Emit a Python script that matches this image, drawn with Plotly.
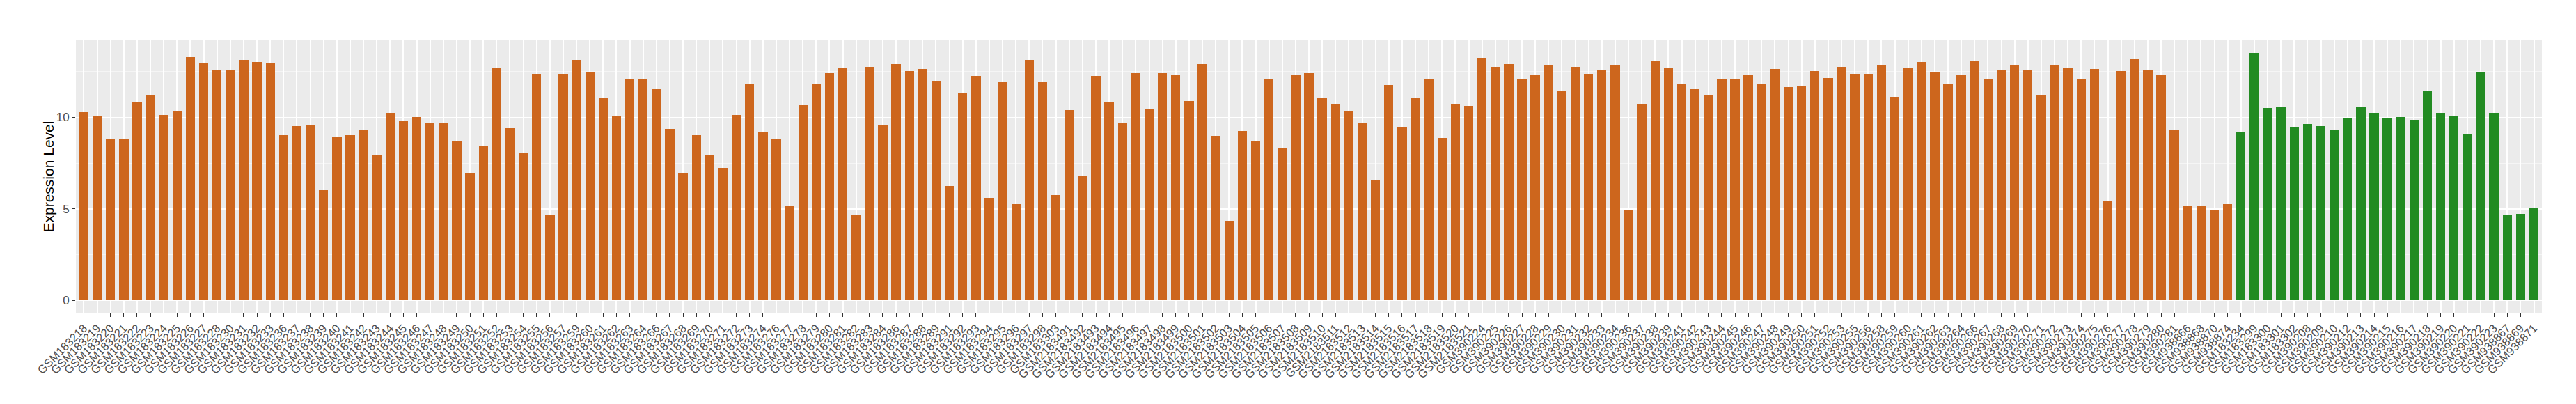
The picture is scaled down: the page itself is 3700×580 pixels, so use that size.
import plotly.graph_objects as go

tumor_labels = [
    "GSM183218","GSM183219","GSM183220","GSM183221","GSM183222","GSM183223","GSM183224","GSM183225",
    "GSM183226","GSM183227","GSM183228","GSM183230","GSM183231","GSM183232","GSM183233","GSM183236",
    "GSM183237","GSM183238","GSM183239","GSM183240","GSM183241","GSM183242","GSM183243","GSM183244",
    "GSM183245","GSM183246","GSM183247","GSM183248","GSM183249","GSM183250","GSM183251","GSM183252",
    "GSM183253","GSM183254","GSM183255","GSM183256","GSM183257","GSM183259","GSM183260","GSM183261",
    "GSM183262","GSM183263","GSM183264","GSM183266","GSM183267","GSM183268","GSM183269","GSM183270",
    "GSM183271","GSM183272","GSM183273","GSM183274","GSM183276","GSM183277","GSM183278","GSM183279",
    "GSM183280","GSM183281","GSM183282","GSM183283","GSM183284","GSM183286","GSM183287","GSM183288",
    "GSM183289","GSM183291","GSM183292","GSM183293","GSM183294","GSM183295","GSM183296","GSM183297",
    "GSM183298","GSM183303","GSM2183491","GSM2183492","GSM2183493","GSM2183494","GSM2183495","GSM2183496",
    "GSM2183497","GSM2183498","GSM2183499","GSM2183500","GSM2183501","GSM2183502","GSM2183503","GSM2183504",
    "GSM2183505","GSM2183506","GSM2183507","GSM2183508","GSM2183509","GSM2183510","GSM2183511","GSM2183512",
    "GSM2183513","GSM2183514","GSM2183515","GSM2183516","GSM2183517","GSM2183518","GSM2183519","GSM2183520",
    "GSM2183521","GSM390224","GSM390225","GSM390226","GSM390227","GSM390228","GSM390229","GSM390230",
    "GSM390231","GSM390232","GSM390233","GSM390234","GSM390236","GSM390237","GSM390238","GSM390239",
    "GSM390241","GSM390242","GSM390243","GSM390244","GSM390245","GSM390246","GSM390247","GSM390248",
    "GSM390249","GSM390250","GSM390251","GSM390252","GSM390253","GSM390255","GSM390256","GSM390258",
    "GSM390259","GSM390260","GSM390261","GSM390262","GSM390263","GSM390264","GSM390266","GSM390267",
    "GSM390268","GSM390269","GSM390270","GSM390271","GSM390272","GSM390273","GSM390274","GSM390275",
    "GSM390276","GSM390277","GSM390278","GSM390279","GSM390280","GSM390281","GSM938866","GSM938868",
    "GSM938870","GSM938874",
]
tumor_values = [
    10.28, 10.05, 8.84, 8.80, 10.82, 11.20, 10.13, 10.36,
    13.29, 12.99, 12.61, 12.61, 13.14, 13.02, 12.99, 9.02,
    9.52, 9.60, 6.02, 8.92, 9.02, 9.29, 7.95, 10.24,
    9.79, 10.01, 9.68, 9.71, 8.72, 6.97, 8.42, 12.73,
    9.41, 8.03, 12.38, 4.68, 12.38, 13.14, 12.46, 11.08,
    10.05, 12.07, 12.07, 11.54, 9.37, 6.93, 9.02, 7.91,
    7.23, 10.13, 11.80, 9.18, 8.80, 5.13, 10.67, 11.80,
    12.42, 12.69, 4.64, 12.77, 9.60, 12.91, 12.53, 12.65,
    12.01, 6.24, 11.35, 12.26, 5.60, 11.93, 5.25, 13.14,
    11.93, 5.75, 10.40, 6.82, 12.26, 10.82, 9.68, 12.42,
    10.44, 12.42, 12.34, 10.90, 12.91, 8.98, 4.33, 9.25,
    8.68, 12.07, 8.34, 12.34, 12.42, 11.08, 10.71, 10.36,
    9.68, 6.55, 11.76, 9.48, 11.04, 12.07, 8.88, 10.74,
    10.63, 13.26, 12.77, 12.91, 12.07, 12.34, 12.83, 11.47,
    12.77, 12.38, 12.61, 12.83, 4.95, 10.71, 13.06, 12.69,
    11.80, 11.54, 11.24, 12.07, 12.11, 12.34, 11.84, 12.65,
    11.66, 11.74, 12.53, 12.15, 12.77, 12.38, 12.38, 12.87,
    11.12, 12.69, 13.02, 12.50, 11.80, 12.30, 13.06, 12.11,
    12.57, 12.83, 12.57, 11.20, 12.87, 12.69, 12.07, 12.65,
    5.40, 12.53, 13.18, 12.57, 12.30, 9.29, 5.13, 5.13,
    4.91, 5.25,
]

normal_labels = [
    "GSM183234","GSM183299","GSM183300","GSM183301","GSM183302","GSM390208","GSM390209","GSM390210",
    "GSM390212","GSM390213","GSM390214","GSM390215","GSM390216","GSM390217","GSM390218","GSM390219",
    "GSM390220","GSM390221","GSM390222","GSM390223","GSM938867","GSM938869","GSM938871",
]
normal_values = [
    9.18, 13.53, 10.51, 10.59, 9.48, 9.64, 9.52, 9.33,
    9.95, 10.59, 10.24, 9.97, 10.01, 9.87, 11.43, 10.24,
    10.09, 9.06, 12.50, 10.24, 4.64, 4.72, 5.07,
]

y_ticks = [0, 5, 10]

all_labels = tumor_labels + normal_labels
n = len(all_labels)
ymax = max(tumor_values + normal_values)
pad = 0.05 * ymax

FONT = "Liberation Sans, Arial, Helvetica, sans-serif"

fig = go.Figure()
fig.add_trace(go.Bar(x=tumor_labels, y=tumor_values, width=0.7,
                     marker=dict(color="#CD661D", line=dict(width=0)), showlegend=False))
fig.add_trace(go.Bar(x=normal_labels, y=normal_values, width=0.7,
                     marker=dict(color="#228B22", line=dict(width=0)), showlegend=False))

fig.update_layout(
    width=3700, height=580,
    margin=dict(l=101, r=57, t=50, b=139, autoexpand=False),
    paper_bgcolor="white", plot_bgcolor="#EBEBEB",
    barmode="overlay", bargap=0,
    font=dict(family=FONT, color="#4D4D4D"),
    annotations=[dict(text="Expression Level", xref="paper", yref="paper",
                      x=-40 / 3542, y=0.5, xanchor="center", yanchor="middle",
                      textangle=-90, showarrow=False,
                      font=dict(family=FONT, size=21, color="black"))],
)
fig.update_xaxes(
    type="category", categoryorder="array", categoryarray=all_labels,
    range=[-0.6, n - 1 + 0.6],
    tickmode="array", tickvals=all_labels, ticktext=all_labels,
    tickangle=-45, tickfont=dict(family=FONT, size=16.5, color="#4D4D4D"),
    ticks="outside", ticklen=5, tickwidth=1.2, tickcolor="#333333",
    showgrid=True, gridcolor="white", gridwidth=1.5,
    zeroline=False, showline=False, automargin=False,
)
fig.update_yaxes(
    range=[-pad, ymax + pad],
    tickmode="array", tickvals=y_ticks,
    tickfont=dict(family=FONT, size=17, color="#4D4D4D"),
    ticks="outside", ticklen=5, tickwidth=1.2, tickcolor="#333333",
    showgrid=True, gridcolor="white", gridwidth=1.5,
    minor=dict(tickmode="array", tickvals=[2.5, 7.5, 12.5], showgrid=True,
               gridcolor="#F5F5F5", gridwidth=0.8, ticks=""),
    zeroline=False, showline=False, automargin=False,
)

fig.write_html("out.html")
